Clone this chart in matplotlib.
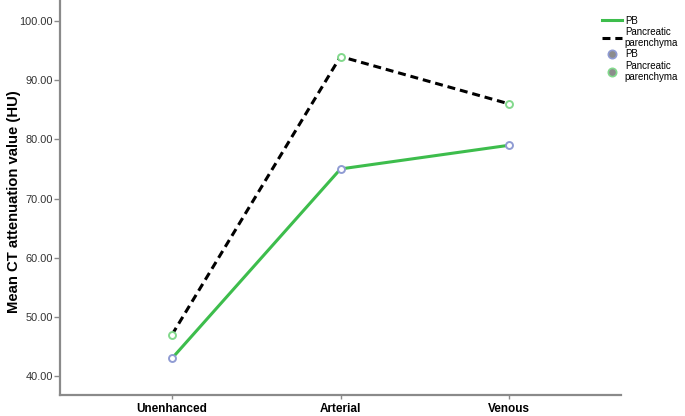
import matplotlib

matplotlib.use("Agg")
import matplotlib.pyplot as plt
from matplotlib.lines import Line2D

phases = ["Unenhanced", "Arterial", "Venous"]
pb_values = [43.0, 75.0, 79.0]
parenchyma_values = [47.0, 94.0, 86.0]
y_ticks = [40, 50, 60, 70, 80, 90, 100]

GREEN = "#3dbd4c"
PB_EDGE = "#8f9bd3"
PAR_EDGE = "#82d98c"
AXIS_GREY = "#8a8a8a"

plt.rcParams["font.family"] = ["Liberation Sans", "DejaVu Sans"]

fig = plt.figure(figsize=(6.85, 4.16), dpi=100)
ax = fig.add_axes([60 / 685, 1 - 395 / 416, 561 / 685, 395 / 416])

xs = list(range(len(phases)))
ax.plot(xs, pb_values, color=GREEN, lw=2.2, zorder=2)
ax.plot(xs, parenchyma_values, color="black", lw=2.2, ls=(0, (2.6, 1.6)), zorder=2)
ax.plot(xs, pb_values, ls="none", marker="o", ms=5, mfc="white",
        mec=PB_EDGE, mew=1.4, zorder=3)
ax.plot(xs, parenchyma_values, ls="none", marker="o", ms=5, mfc="white",
        mec=PAR_EDGE, mew=1.4, zorder=3)

ax.set_xlim(-0.665, 2.665)
ax.set_ylim(36.8, 103.55)
ax.set_xticks(xs)
ax.set_xticklabels(phases, fontsize=8.5, fontweight="bold")
ax.set_yticks(y_ticks)
ax.set_yticklabels([f"{v:.2f}" for v in y_ticks], fontsize=7.9, color="#333333")
ax.set_ylabel("Mean CT attenuation value (HU)", fontsize=10.7, fontweight="bold")
ax.yaxis.set_label_coords(-0.07, 0.49)

for side in ("top", "right"):
    ax.spines[side].set_visible(False)
for side in ("left", "bottom"):
    ax.spines[side].set_color(AXIS_GREY)
    ax.spines[side].set_linewidth(1.6)
ax.tick_params(axis="y", length=4.5, width=1, color=AXIS_GREY, pad=0.5)
ax.tick_params(axis="x", length=3, width=1, color=AXIS_GREY, pad=2.5)

handles = [
    Line2D([], [], color=GREEN, lw=2.2),
    Line2D([], [], color="black", lw=2.2, ls=(0, (2.6, 1.6))),
    Line2D([], [], ls="none", marker="o", ms=6, mfc="#8c8c8c", mec=PB_EDGE, mew=1.2),
    Line2D([], [], ls="none", marker="o", ms=6, mfc="#8c8c8c", mec=PAR_EDGE, mew=1.2),
]
labels = ["PB", "Pancreatic\nparenchyma", "PB", "Pancreatic\nparenchyma"]
fig.legend(handles, labels, loc="upper left", bbox_to_anchor=(602 / 685, 1 - 15.5 / 416),
           frameon=False, fontsize=7, borderpad=0, handlelength=2.1,
           handletextpad=0.25, labelspacing=0.12, borderaxespad=0)

fig.savefig("out.png", dpi=100)
